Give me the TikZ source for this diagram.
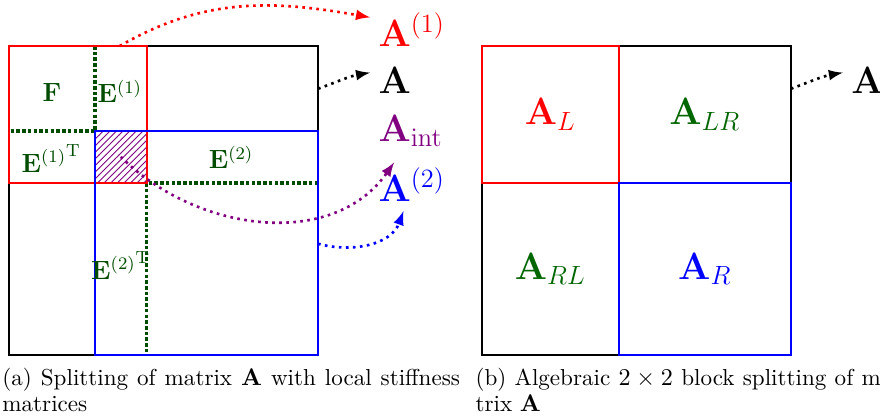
\documentclass[tikz,border=0pt]{standalone}
\usepackage{amsmath,amssymb,graphicx,tikz}
\usetikzlibrary{calc,patterns}
\definecolor{dkgreen}{rgb}{0,0.3,0}
\definecolor{mdgreen}{rgb}{0,0.4,0}
\definecolor{mypurple}{rgb}{0.5,0,0.5}

\begin{document}
\begin{tikzpicture}[scale=0.823,
  box/.style={line width=0.9pt},
  split/.style={dkgreen, densely dotted, ultra thick},
  link/.style={dotted, very thick, -latex},
  blk/.style={dkgreen, font=\large},
  res/.style={anchor=base west, inner sep=2pt, font=\LARGE},
  big/.style={font=\LARGE},
  captext/.style={anchor=north west, inner sep=0pt, text width=208pt, align=justify,
    font=\fontsize{10.5}{11.5}\selectfont}]
  \useasboundingbox (-0.175,-1.243) rectangle (16.91,6.893);
  \clip (-0.175,-1.243) rectangle (16.91,6.893);
  % (a) overlapping local matrices
  \fill[pattern=north east lines, pattern color=mypurple] (1.67,3.34) rectangle (2.67,4.35);
  \draw[split] (1.67,6) -- (1.67,4.35) -- (0,4.35);
  \draw[split] (6,3.34) -- (2.67,3.34) -- (2.67,0);
  \draw[box] (0,0) rectangle (6,6);
  \draw[box, red] (0,3.34) rectangle (2.67,6);
  \draw[box, blue] (1.67,0) rectangle (6,4.35);
  \node[blk] (F) at (0.835,5.09) {$\mathbf{F}$};
  \node[blk] (E1) at (2.15,5.12) {$\mathbf{E}^{(1)}$};
  \node[blk] (E1T) at (0.82,3.82) {${\mathbf{E}^{(1)}}^{\mathrm{T}}$};
  \node[blk] (E2) at (4.31,3.84) {$\mathbf{E}^{(2)}$};
  \node[blk] (E2T) at (2.17,1.74) {${\mathbf{E}^{(2)}}^{\mathrm{T}}$};
  \node[res, red] (A1) at (7.08,6.0) {$\mathbf{A}^{(1)}$};
  \node[res] (A) at (7.08,5.07) {$\mathbf{A}$};
  \node[res, mypurple] (Aint) at (7.08,4.155) {$\mathbf{A}_{\mathrm{int}}$};
  \node[res, blue] (A2) at (7.08,2.99) {$\mathbf{A}^{(2)}$};
  \coordinate (p1) at (2.15,6);
  \coordinate (p) at (6,5.17);
  \coordinate (pint) at (2.17,3.85);
  \coordinate (p2) at (6,2.16);
  \draw[link, red] (p1) to[out=30,in=170] ($(A1.west)+(-0.07,0.23)$);
  \draw[link] (p) to[out=20,in=190] ($(A.west)+(-0.07,0.16)$);
  \draw[link, mypurple] (pint) to[out=-45,in=-125] ($(Aint.south)+(-0.32,-0.21)$);
  \draw[link, blue] (p2) to[out=-15,in=-110] ($(A2.south)+(-0.16,-0.1)$);
  \node[captext] (capa) at (-0.136,-0.252) {\tolerance=9999 \hyphenpenalty=10000 (a) Splitting of matrix $\mathbf{A}$ with local stiffness matrices};
  % (b) block splitting
  \begin{scope}[shift={(9.18,0)}]
    \draw[box] (0,0) rectangle (6,6);
    \draw[box, red] (0,3.34) rectangle (2.66,6);
    \draw[box, blue] (2.66,0) rectangle (6,3.34);
    \node[big, red] (AL) at (1.33,4.67) {$\mathbf{A}_L$};
    \node[big, mdgreen] (ALR) at (4.33,4.67) {$\mathbf{A}_{LR}$};
    \node[big, mdgreen] (ARL) at (1.33,1.67) {$\mathbf{A}_{RL}$};
    \node[big, blue] (AR) at (4.33,1.67) {$\mathbf{A}_R$};
    \node[res] (B) at (7.08,5.07) {$\mathbf{A}$};
    \coordinate (q) at (6,5.17);
    \draw[link] (q) to[out=20,in=190] ($(B.west)+(-0.07,0.16)$);
    \node[captext, text width=193pt] (capb) at (-0.13,-0.252) {\tolerance=9999 (b) Algebraic $2\times 2$ block splitting of ma-\linebreak trix $\mathbf{A}$};
  \end{scope}
\end{tikzpicture}
\end{document}
